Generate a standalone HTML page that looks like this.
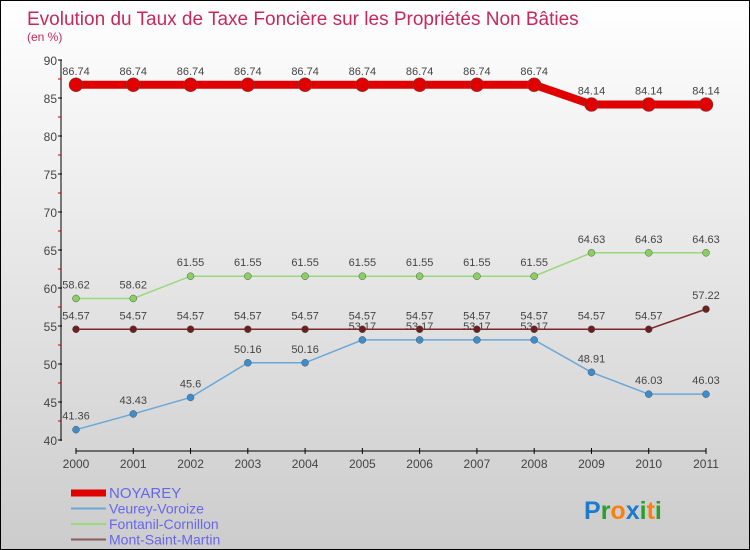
<!DOCTYPE html>
<html><head><meta charset="utf-8"><style>
body{margin:0}
#c{width:748px;height:548px;border:1px solid #000;background:linear-gradient(#fff,#ccc);position:relative;font-family:"Liberation Sans",sans-serif;overflow:hidden}
</style></head><body>
<div id="c">
<svg width="748" height="548" id="s"></svg>
</div>
<script>
const years=["2000","2001","2002","2003","2004","2005","2006","2007","2008","2009","2010","2011"];
const noyarey=[86.74,86.74,86.74,86.74,86.74,86.74,86.74,86.74,86.74,84.14,84.14,84.14];
const veurey=[41.36,43.43,45.6,50.16,50.16,53.17,53.17,53.17,53.17,48.91,46.03,46.03];
const fontanil=[58.62,58.62,61.55,61.55,61.55,61.55,61.55,61.55,61.55,64.63,64.63,64.63];
const mont=[54.57,54.57,54.57,54.57,54.57,54.57,54.57,54.57,54.57,54.57,54.57,57.22];
const yTicks=[40,45,50,55,60,65,70,75,80,85,90];
const s=document.getElementById('s');const NS='http://www.w3.org/2000/svg';
function el(t,a,txt,p){const e=document.createElementNS(NS,t);for(const k in a)e.setAttribute(k,a[k]);if(txt!==undefined)e.textContent=txt;(p||s).appendChild(e);return e;}
const X=i=>75+i*(630/11), Y=v=>439-(v-40)*7.6;
let e;
e=el('text',{x:26,y:24,'font-size':19,fill:'#c8285a'},'Evolution du Taux de Taxe Foncière sur les Propriétés Non Bâties');

e=el('text',{x:26,y:40,'font-size':12,fill:'#c8285a'},'(en %)');

e=el('line',{x1:60,y1:59,x2:60,y2:440,stroke:'#000'});

yTicks.forEach(v=>{
 e=el('line',{x1:57,x2:61,y1:Y(v),y2:Y(v),stroke:'#000'});
 
 if(v<90){e=el('line',{x1:57,x2:60,y1:Y(v+2.5),y2:Y(v+2.5),stroke:'#c00'});}
 e=el('text',{x:56,y:Y(v)+5,'font-size':12,fill:'#444','text-anchor':'end'},v);
 
});
e=el('line',{x1:75,y1:450,x2:705,y2:450,stroke:'#000'});

years.forEach((y,i)=>{
 e=el('line',{x1:X(i),x2:X(i),y1:447,y2:453,stroke:'#000'});
 
 e=el('text',{x:X(i),y:467,'font-size':12,fill:'#444','text-anchor':'middle'},y);
 
});
function series(d,col,w,r,name,dot){
 e=el('polyline',{points:d.map((v,i)=>X(i)+','+Y(v)).join(' '),fill:'none',stroke:col,'stroke-width':w});
 
 d.forEach((v,i)=>{
  e=el('circle',{cx:X(i),cy:Y(v),r:r,fill:dot,stroke:'#555','stroke-width':0.5});
  
  e=el('text',{x:X(i),y:Y(v)-10,'font-size':11,fill:'#444','text-anchor':'middle'},v);
  
 });
}
series(veurey,'#6aa8d8',1.5,3.5,'veurey','#3d8ccc');
series(mont,'#7a2a2a',1.5,3.5,'mont-saint-martin','#6b1f1f');
series(fontanil,'#99d97a',1.5,3.5,'fontanil','#88d060');
series(noyarey,'#e00000',8,7,'noyarey','#e00000');
const leg=[['NOYAREY','#e00000',7],['Veurey-Voroize','#6aa8d8',2],['Fontanil-Cornillon','#99d97a',2],['Mont-Saint-Martin','#8a5a5a',2]];
leg.forEach((l,i)=>{const y=492+i*15.5;
 e=el('line',{x1:70,x2:105,y1:y,y2:y,stroke:l[1],'stroke-width':l[2]});
 
 e=el('text',{x:108,y:y+5,'font-size':i==0?15:14,fill:'#6666ee'},l[0]);
 
});
const logo=el('text',{x:583,y:518,'font-size':25,'font-weight':'bold'});


[['P','#1e7acc'],['r','#2aa02a'],['o','#ff7f0e'],['x','#1e7acc'],['i','#2aa02a'],['t','#ff7f0e'],['i','#2aa02a']].forEach(c=>{el('tspan',{fill:c[1]},c[0],logo);});
</script>
</body></html>
